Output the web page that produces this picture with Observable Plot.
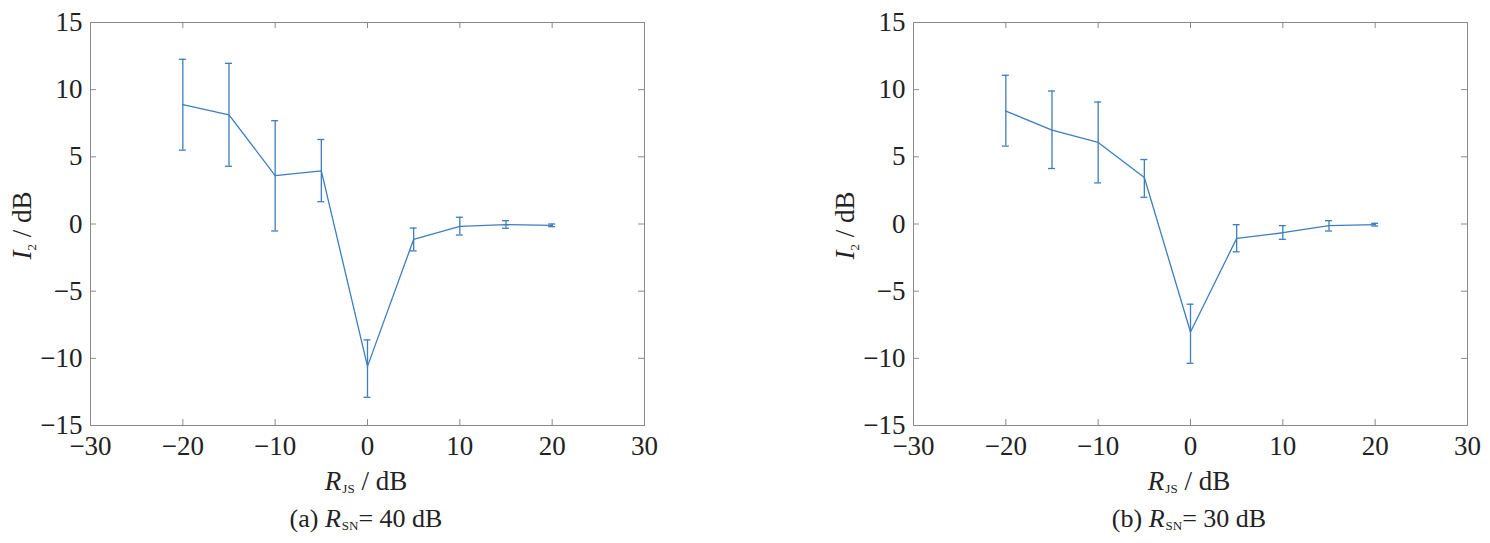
<!DOCTYPE html>
<html>
<head>
<meta charset="utf-8">
<script src="https://cdn.jsdelivr.net/npm/d3@7"></script>
<script src="https://cdn.jsdelivr.net/npm/@observablehq/plot@0.6"></script>
<style>
  html, body { margin: 0; padding: 0; background: #fff; }
  #root { position: relative; width: 1490px; height: 543px; overflow: hidden; font-family: "Liberation Serif", "Times New Roman", serif; color: #222; }
  .panel { position: absolute; top: 0; }
  .lbl { position: absolute; font-size: 26px; white-space: nowrap; transform: translateX(-50%); line-height: 1; }
  .lbl i { font-style: italic; }
  .lbl sub { font-size: 13px; vertical-align: -3px; font-style: normal; margin-left: 1px; }
</style>
</head>
<body>
<div id="root"></div>
<script>
// ---- data ----
const rJS = [-20, -15, -10, -5, 0, 5, 10, 15, 20];

// (a) R_SN = 40 dB
const meanA  = [8.88, 8.13, 3.60, 3.96, -10.60, -1.14, -0.17, -0.05, -0.10];
const upperA = [12.26, 11.96, 7.69, 6.29, -8.63, -0.30, 0.50, 0.25, 0.00];
const lowerA = [5.50, 4.30, -0.52, 1.66, -12.90, -2.00, -0.82, -0.32, -0.20];

// (b) R_SN = 30 dB
const meanB  = [8.41, 6.99, 6.07, 3.46, -8.04, -1.07, -0.65, -0.12, -0.05];
const upperB = [11.07, 9.90, 9.08, 4.80, -5.97, -0.05, -0.12, 0.25, 0.05];
const lowerB = [5.80, 4.13, 3.06, 1.99, -10.37, -2.07, -1.14, -0.52, -0.15];

const xTicks = [-30, -20, -10, 0, 10, 20, 30];
const yTicks = [-15, -10, -5, 0, 5, 10, 15];
const xDomain = [-30, 30];
const yDomain = [-15, 15];

const LINE = "#3d7ebf";
const FRAME = "#8a8a8a";
const TEXT = "#222";
const FONT = "'Liberation Serif', 'Times New Roman', serif";

function makePanel(mean, upper, lower, opts) {
  const data = rJS.map((x, i) => ({x, m: mean[i], hi: upper[i], lo: lower[i]}));
  const H = 460, mt = 22, mb = 35, ml = 90, mr = opts.mr, W = opts.width;
  const ph = H - mt - mb, pw = W - ml - mr;
  const tick = 6;
  const svg = Plot.plot({
    width: W, height: H,
    marginTop: mt, marginBottom: mb, marginLeft: ml, marginRight: mr,
    style: {fontFamily: FONT, fontSize: "27px", color: TEXT, background: "transparent", overflow: "visible"},
    x: {domain: xDomain, ticks: xTicks},
    y: {domain: yDomain, ticks: yTicks},
    marks: [
      Plot.frame({stroke: FRAME, strokeWidth: 1}),
      // inward tick marks on all four sides
      Plot.ruleX(xTicks, {x: d => d, insetTop: ph - tick, stroke: FRAME}),
      Plot.ruleX(xTicks, {x: d => d, insetBottom: ph - tick, stroke: FRAME}),
      Plot.ruleY(yTicks, {y: d => d, insetRight: pw - tick, stroke: FRAME}),
      Plot.ruleY(yTicks, {y: d => d, insetLeft: pw - tick, stroke: FRAME}),
      Plot.axisX({ticks: xTicks, tickSize: 0, tickPadding: 10, label: null, fill: TEXT, fontSize: 27}),
      Plot.axisY({ticks: yTicks, tickSize: 0, tickPadding: 8, label: null, fill: TEXT, fontSize: 27}),
      // error bars
      Plot.ruleX(data, {x: "x", y1: "lo", y2: "hi", stroke: LINE, strokeWidth: 1.3}),
      Plot.ruleY(data, {y: "hi", x1: "x", x2: "x", insetLeft: -3.5, insetRight: -3.5, stroke: LINE, strokeWidth: 1.3}),
      Plot.ruleY(data, {y: "lo", x1: "x", x2: "x", insetLeft: -3.5, insetRight: -3.5, stroke: LINE, strokeWidth: 1.3}),
      Plot.line(data, {x: "x", y: "m", stroke: LINE, strokeWidth: 1.3})
    ]
  });
  // rotated y-axis label with italic I and subscript 2
  const g = d3.select(svg).append("text")
    .attr("transform", `translate(31,${mt + ph / 2 + 2}) rotate(-90)`)
    .attr("text-anchor", "middle")
    .attr("fill", TEXT)
    .style("font-family", FONT)
    .style("font-size", "27px");
  g.append("tspan").attr("font-style", "italic").text("I");
  g.append("tspan").attr("font-size", "13px").attr("dy", 5).text("2");
  g.append("tspan").attr("dy", -5).text(" / dB");
  return svg;
}

const root = document.getElementById("root");

function addPanel(svg, left, centerX, tag, snr) {
  const div = document.createElement("div");
  div.className = "panel";
  div.style.left = left + "px";
  div.appendChild(svg);
  root.appendChild(div);

  const xl = document.createElement("div");
  xl.className = "lbl";
  xl.style.left = centerX + "px";
  xl.style.top = "468px";
  xl.style.fontSize = "27px";
  xl.innerHTML = "<i>R</i><sub>JS</sub> / dB";
  root.appendChild(xl);

  const cap = document.createElement("div");
  cap.className = "lbl";
  cap.style.left = centerX + "px";
  cap.style.top = "506px";
  cap.innerHTML = `(${tag}) <i>R</i><sub>SN</sub>= ${snr} dB`;
  root.appendChild(cap);
}

const svgA = makePanel(meanA, upperA, lowerA, {width: 745, mr: 101});
const svgB = makePanel(meanB, upperB, lowerB, {width: 667, mr: 23});
addPanel(svgA, 0, 366, "a", 40);
addPanel(svgB, 823, 1189, "b", 30);
</script>
</body>
</html>
